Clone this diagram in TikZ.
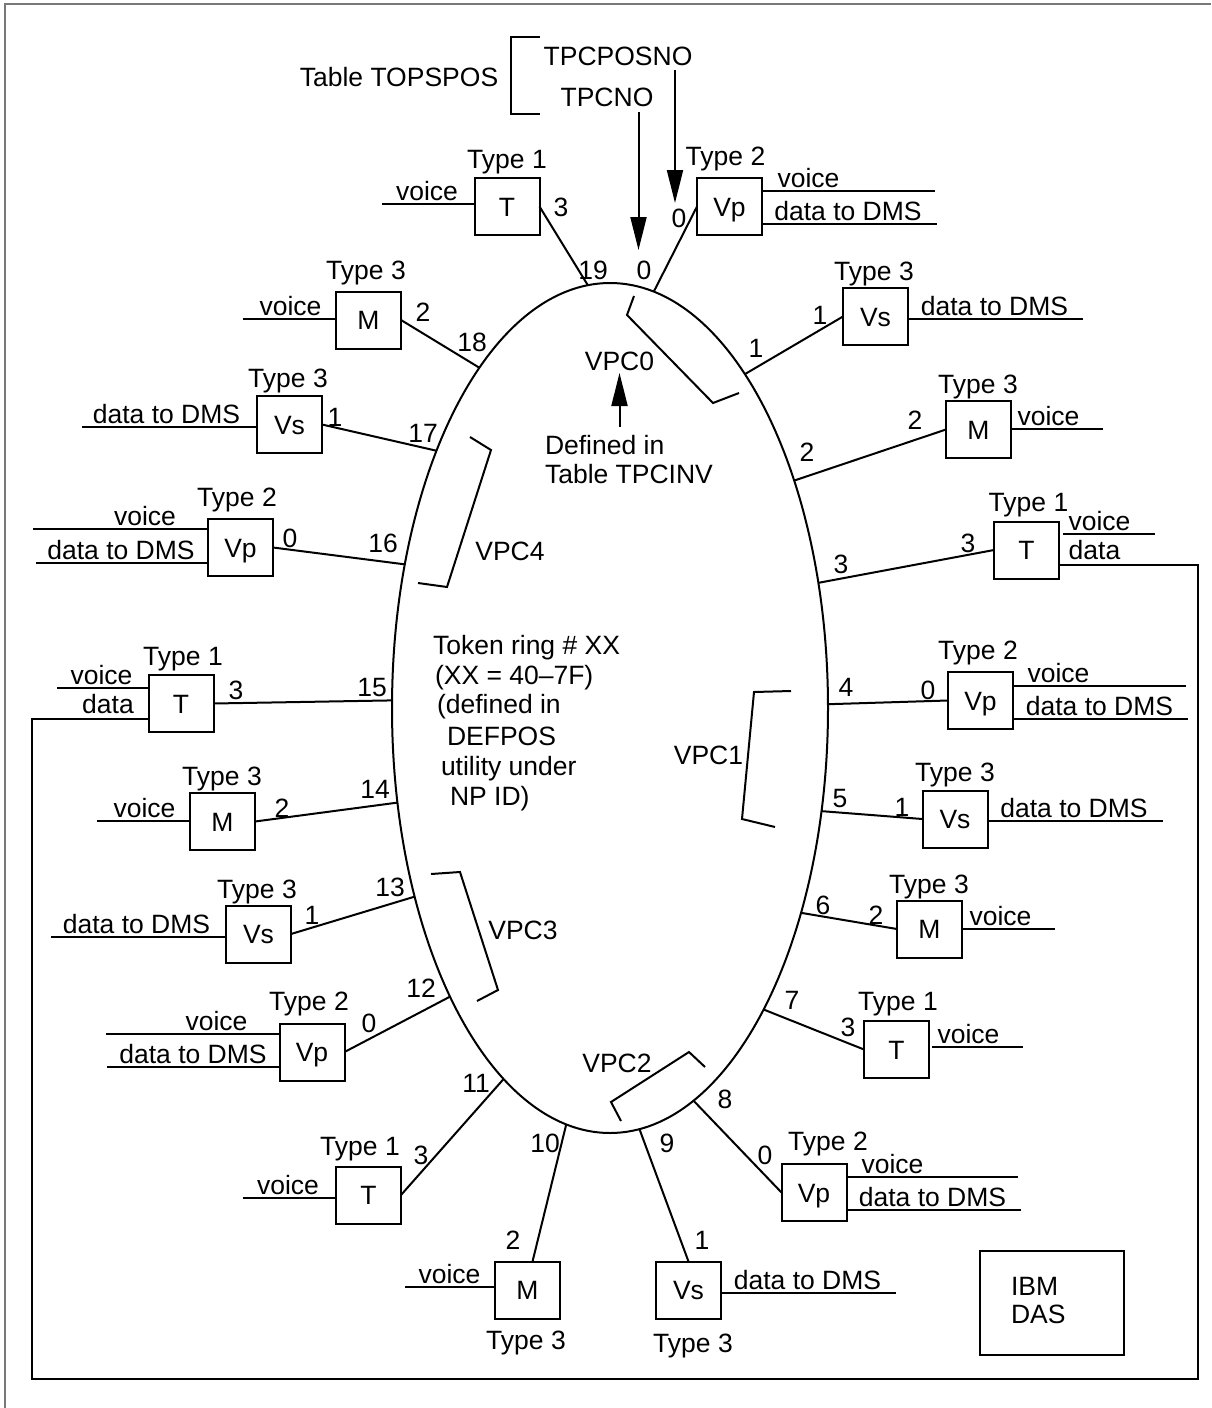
\documentclass[tikz,border=0pt]{standalone}
\usepackage{fontspec}
\setmainfont{Liberation Sans}
\usetikzlibrary{shapes.geometric,arrows.meta}
\definecolor{framegray}{RGB}{120,120,120}
\begin{document}
\begin{tikzpicture}[x=1pt,y=-1pt,
  font=\fontsize{26.5}{30}\selectfont,
  line width=2pt,
  dev/.style={draw, line width=2pt, minimum width=65pt, minimum height=57pt, inner sep=0pt, outer sep=0pt, text height=19pt, text depth=0pt},
  lbl/.style={inner sep=0pt, outer sep=0pt, text height=19pt, text depth=0pt},
  wl/.style={inner sep=0pt, anchor=base},
  arr/.style={line width=2pt, -{Triangle[length=33pt,width=16pt]}},
  brk/.style={line width=2pt}
  ]
\useasboundingbox (0,0) rectangle (1211,1408);
\fill[white] (0,0) rectangle (1211,1408);
% frame
\draw[framegray, line width=1.5pt] (5,1408) -- (5,4) -- (1211,4);

% ring
\node[draw, ellipse, line width=2pt, minimum width=436pt, minimum height=850pt, inner sep=0pt, outer sep=0pt] (ring) at (610,708) {};

% top table labels
\node[lbl] (tops) at (399,77) {Table TOPSPOS};
\draw[brk] (540,37) -- (511,37) -- (511,114) -- (540,114);
\node[lbl] (tpcposno) at (618,56) {TPCPOSNO};
\node[lbl] (tpcno) at (607,97) {TPCNO};
\coordinate (a1) at (675,203);
\coordinate (a2) at (638.5,250);
\draw[arr] ([yshift=-4.5pt]tpcposno.south -| a1) -- (a1);
\draw[arr] ([yshift=-5.5pt]tpcno.south -| a2) -- (a2);

% VPC0 and note
\node[lbl] (vpc0) at (619.5,360.5) {VPC0};
\node[lbl, anchor=west] (def1) at (545,445) {Defined in};
\node[lbl, anchor=west] (def2) at (545,474) {Table TPCINV};
\coordinate (a3) at (619.5,373);
\draw[arr] ([yshift=8.5pt]def1.north -| a3) -- (a3);
\draw[brk] (634,296) -- (627,315) -- (713,403) -- (739,393);

% other VPC brackets
\draw[brk] (791,691) -- (754,692) -- (742,819) -- (775,827);
\node[lbl] (vpc1) at (708.5,755) {VPC1};
\draw[brk] (621,1121) -- (611,1102) -- (689,1052) -- (705,1067);
\node[lbl] (vpc2) at (617,1063) {VPC2};
\draw[brk] (431,874) -- (460,872) -- (498,990) -- (477,1001);
\node[lbl] (vpc3) at (523,930) {VPC3};
\draw[brk] (470,437) -- (491,450) -- (447,587) -- (418,583);
\node[lbl] (vpc4) at (510,551) {VPC4};

% token ring text
\node[lbl, anchor=west] (tr1) at (433,645) {Token ring \# XX};
\node[lbl, anchor=west] (tr2) at (435,674.5) {(XX = 40\textendash 7F)};
\node[lbl, anchor=west] (tr3) at (437,704) {(defined in};
\node[lbl, anchor=west] (tr4) at (447,736) {DEFPOS};
\node[lbl, anchor=west] (tr5) at (441,766) {utility under};
\node[lbl, anchor=west] (tr6) at (450,796) {NP ID)};

% ===== devices =====
% 19
\node[dev] (d19) at (507,206.5) {T};
\node[lbl] at (507,158.5) {Type 1};
\node[lbl] at (561,207) {3};
\node[lbl] at (593,270) {19};
\draw (d19.east) -- (ring.93.8);
\coordinate (w19) at (382,204);
\draw (w19) -- (d19.west |- w19);
\node[wl] at (427,200.5) {voice};

% 0
\node[dev] (d0) at (729.5,206.5) {Vp};
\node[lbl] at (725.5,155.5) {Type 2};
\node[lbl] at (679,218) {0};
\node[lbl] at (644,270) {0};
\draw (d0.west) -- (ring.84.15);
\coordinate (w0a) at (934.5,191);
\coordinate (w0b) at (937,224);
\draw (d0.east |- w0a) -- (w0a);
\draw (d0.east |- w0b) -- (w0b);
\node[wl] at (808.5,187.5) {voice};
\node[wl] at (848,220.5) {data to DMS};

% 1
\node[dev] (d1) at (875.5,316.5) {Vs};
\node[lbl] at (874,270.5) {Type 3};
\node[lbl] at (820,315) {1};
\node[lbl] at (756,348) {1};
\draw (d1.west) -- (ring.68.1);
\coordinate (w1) at (1083,319);
\draw (d1.east |- w1) -- (w1);
\node[wl] at (994.5,315.5) {data to DMS};

% 2
\node[dev] (d2) at (978.5,429.5) {M};
\node[lbl] at (978,384) {Type 3};
\node[lbl] at (915,420) {2};
\node[lbl] at (807,452) {2};
\draw (d2.west) -- (ring.51.9);
\coordinate (w2) at (1103,429);
\draw (d2.east |- w2) -- (w2);
\node[wl] at (1048.5,425.5) {voice};

% 3
\node[dev] (d3) at (1026.5,550) {T};
\node[lbl] at (1028.5,501.5) {Type 1};
\node[lbl] at (968,543) {3};
\node[lbl] at (841,564) {3};
\draw (d3.west) -- (ring.31.5);
\coordinate (w3) at (1155,534);
\draw ([xshift=4pt]d3.east |- w3) -- (w3);
\node[wl] at (1099.5,530.5) {voice};
\node[wl] at (1094.5,559) {data};

% 4
\node[dev] (d4) at (980.5,700.5) {Vp};
\node[lbl] at (978,650) {Type 2};
\node[lbl] at (928,690) {0};
\node[lbl] at (846,687) {4};
\draw (ring.1.3) -- (d4.west);
\coordinate (w4a) at (1186,686);
\coordinate (w4b) at (1188,719);
\draw (d4.east |- w4a) -- (w4a);
\draw (d4.east |- w4b) -- (w4b);
\node[wl] at (1058.5,682.5) {voice};
\node[wl] at (1099.5,715.5) {data to DMS};

% 5
\node[dev] (d5) at (955,819) {Vs};
\node[lbl] at (955,772) {Type 3};
\node[lbl] at (902,807) {1};
\node[lbl] at (840,798) {5};
\draw (ring.334.4) -- (d5.west);
\coordinate (w5) at (1163,821);
\draw (d5.east |- w5) -- (w5);
\node[wl] at (1074,817.5) {data to DMS};

% 6
\node[dev] (d6) at (929.5,929) {M};
\node[lbl] at (929,884) {Type 3};
\node[lbl] at (876,915) {2};
\node[lbl] at (823,905) {6};
\draw (ring.313.1) -- (d6.west);
\coordinate (w6) at (1055,929);
\draw (d6.east |- w6) -- (w6);
\node[wl] at (1000.5,925.5) {voice};

% 7
\node[dev] (d7) at (896.5,1049.5) {T};
\node[lbl] at (898,1000.5) {Type 1};
\node[lbl] at (848,1027) {3};
\node[lbl] at (792,1000) {7};
\draw (ring.297.7) -- (d7.west);
\coordinate (w7) at (1023,1047);
\draw ([xshift=3pt]d7.east |- w7) -- (w7);
\node[wl] at (968.5,1043.5) {voice};

% 8
\node[dev] (d8) at (814,1192.5) {Vp};
\node[lbl] at (828,1141) {Type 2};
\node[lbl] at (765,1155) {0};
\node[lbl] at (725,1099) {8};
\draw (ring.282.3) -- (d8.west);
\coordinate (w8a) at (1018,1177);
\coordinate (w8b) at (1021,1210);
\draw (d8.east |- w8a) -- (w8a);
\draw (d8.east |- w8b) -- (w8b);
\node[wl] at (892.5,1173.5) {voice};
\node[wl] at (932.5,1206.5) {data to DMS};

% 9
\node[dev] (d9) at (688.5,1290) {Vs};
\node[lbl] at (693,1343) {Type 3};
\node[lbl] at (702,1240) {1};
\node[lbl] at (667,1143) {9};
\draw (ring.274.4) -- (d9.north);
\coordinate (w9) at (896,1293);
\draw (d9.east |- w9) -- (w9);
\node[wl] at (807.5,1289.5) {data to DMS};

% 10
\node[dev] (d10) at (527.5,1290) {M};
\node[lbl] at (526,1340) {Type 3};
\node[lbl] at (513,1240) {2};
\node[lbl] at (545,1143) {10};
\draw (ring.264.9) -- (d10.80);
\coordinate (w10) at (405,1287);
\draw (w10) -- (d10.west |- w10);
\node[wl] at (449.5,1283.5) {voice};

% 11
\node[dev] (d11) at (368.5,1195) {T};
\node[lbl] at (360,1146) {Type 1};
\node[lbl] at (421,1155) {3};
\node[lbl] at (476,1083) {11};
\draw (ring.254.3) -- (d11.east);
\coordinate (w11) at (243,1198);
\draw (w11) -- (d11.west |- w11);
\node[wl] at (288,1194.5) {voice};

% 12
\node[dev] (d12) at (312,1052) {Vp};
\node[lbl] at (309,1001) {Type 2};
\node[lbl] at (369,1023) {0};
\node[lbl] at (421,988) {12};
\draw (d12.east) -- (ring.241);
\coordinate (w12a) at (106,1034);
\coordinate (w12b) at (107,1067);
\draw (w12a) -- (d12.west |- w12a);
\draw (w12b) -- (d12.west |- w12b);
\node[wl] at (216.5,1030.5) {voice};
\node[wl] at (193,1063.5) {data to DMS};

% 13
\node[dev] (d13) at (258.5,934) {Vs};
\node[lbl] at (257,888.5) {Type 3};
\node[lbl] at (312,915) {1};
\node[lbl] at (390,887) {13};
\draw (d13.east) -- (ring.224.3);
\coordinate (w13) at (51,937);
\draw (w13) -- (d13.west |- w13);
\node[wl] at (136.5,933.5) {data to DMS};

% 14
\node[dev] (d14) at (222.5,821.5) {M};
\node[lbl] at (222,776) {Type 3};
\node[lbl] at (282,808) {2};
\node[lbl] at (375,789) {14};
\draw (d14.east) -- (ring.204.5);
\coordinate (w14) at (97,821);
\draw (w14) -- (d14.west |- w14);
\node[wl] at (144.5,817.5) {voice};

% 15
\node[dev] (d15) at (181,703.5) {T};
\node[lbl] at (183,656) {Type 1};
\node[lbl] at (236,690) {3};
\node[lbl] at (372,687) {15};
\draw (d15.east) -- (ring.178.2);
\coordinate (w15) at (57,688);
\draw (w15) -- (d15.west |- w15);
\node[wl] at (101.5,684.5) {voice};
\node[wl] at (108,713) {data};

% 16
\node[dev] (d16) at (240.5,547.5) {Vp};
\node[lbl] at (237,497) {Type 2};
\node[lbl] at (290,538) {0};
\node[lbl] at (383,543) {16};
\draw (d16.east) -- (ring.145);
\coordinate (w16a) at (33,529);
\coordinate (w16b) at (36,563);
\draw (w16a) -- (d16.west |- w16a);
\draw (w16b) -- (d16.west |- w16b);
\node[wl] at (145,525.5) {voice};
\node[wl] at (121,559.5) {data to DMS};

% 17
\node[dev] (d17) at (289.5,424.5) {Vs};
\node[lbl] at (288,378.3) {Type 3};
\node[lbl] at (335,417) {1};
\node[lbl] at (423,433) {17};
\draw (d17.east) -- (ring.124.6);
\coordinate (w17) at (82,427);
\draw (w17) -- (d17.west |- w17);
\node[wl] at (166.5,423.5) {data to DMS};

% 18
\node[dev] (d18) at (368.5,320) {M};
\node[lbl] at (366,270) {Type 3};
\node[lbl] at (423,312) {2};
\node[lbl] at (472,342) {18};
\draw (d18.east) -- (ring.111);
\coordinate (w18) at (243,319);
\draw (w18) -- (d18.west |- w18);
\node[wl] at (290.5,315.5) {voice};

% data loop between the two T stations
\coordinate (c1) at (1198,565);
\coordinate (c2) at (1198,1379);
\coordinate (c3) at (32,1379);
\coordinate (c4) at (32,719);
\draw (d3.east |- c1) -- (c1) -- (c2) -- (c3) -- (c4) -- (d15.west |- c4);

% IBM DAS
\node[draw, line width=2pt, minimum width=144pt, minimum height=104pt, inner sep=0pt, outer sep=0pt] (ibm) at (1052,1303) {};
\node[lbl, anchor=west] (ibm1) at (1011,1286) {IBM};
\node[lbl, anchor=west] (ibm2) at (1011,1314) {DAS};
\end{tikzpicture}
\end{document}
